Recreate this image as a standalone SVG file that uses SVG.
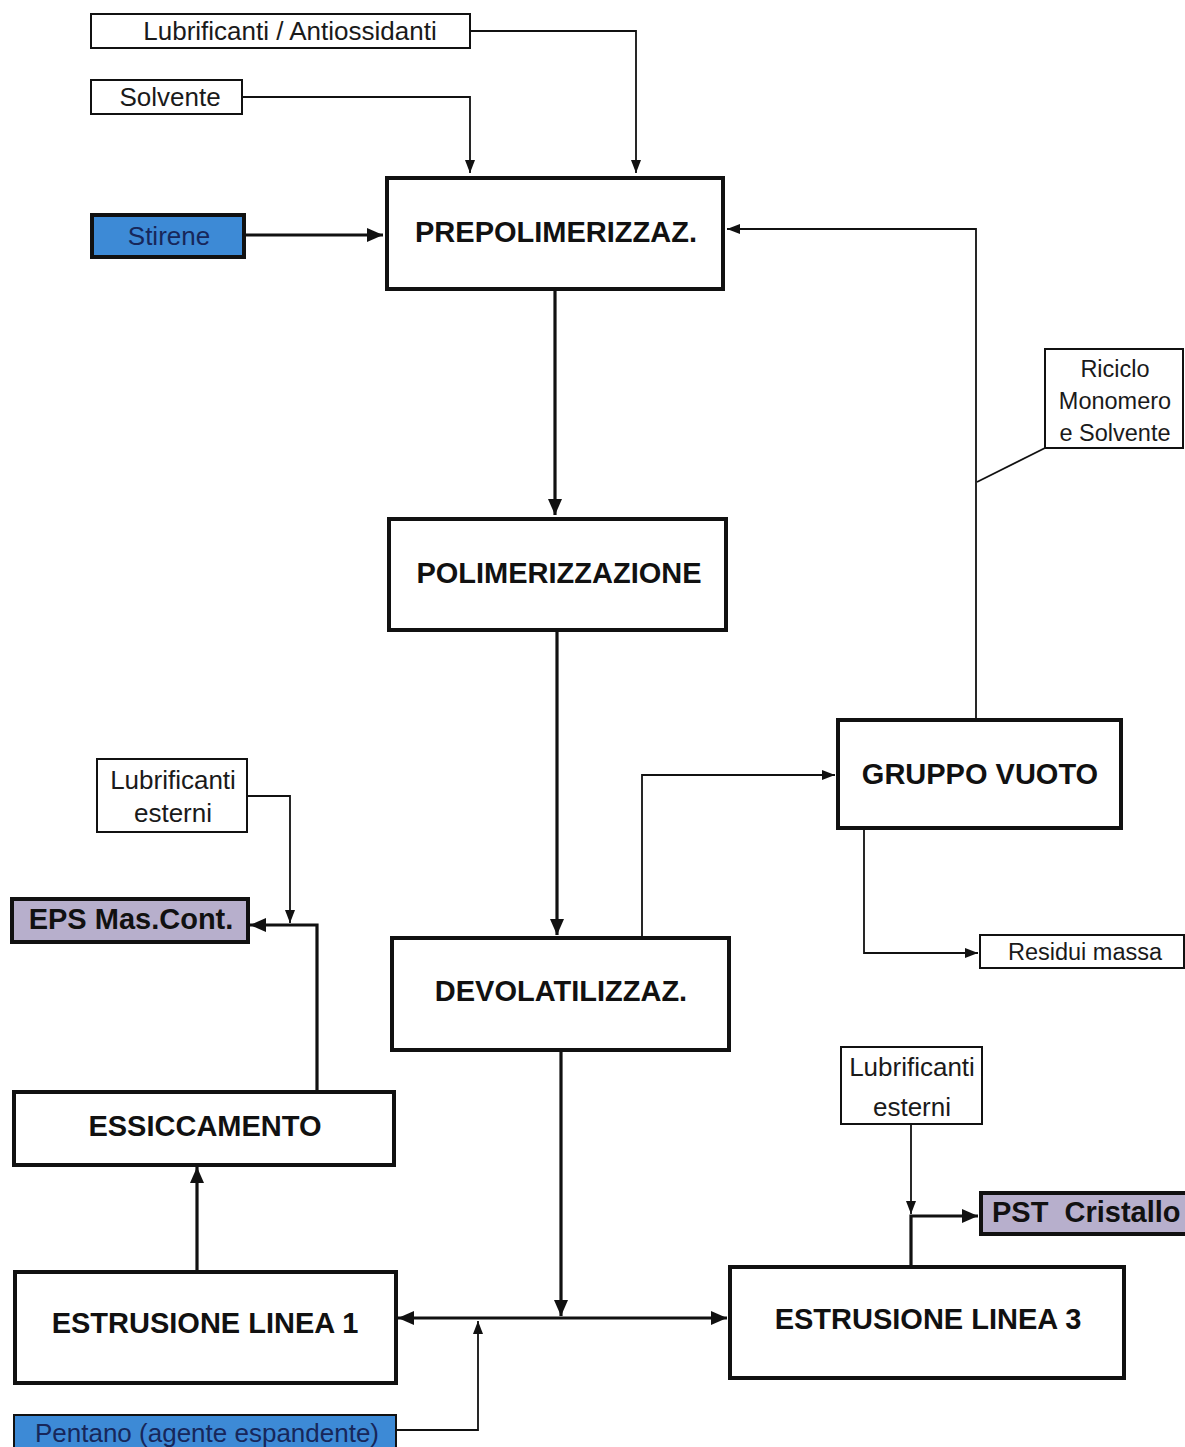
<svg xmlns="http://www.w3.org/2000/svg" width="1185" height="1447" viewBox="0 0 1185 1447">
  <style>
    .bg { fill: #ffffff; }
    .proc { fill: #ffffff; stroke: #111; stroke-width: 4; }
    .input { fill: #ffffff; stroke: #111; stroke-width: 2; }
    .blue { fill: #3d8ad6; stroke: #111; stroke-width: 4; }
    .blue-thin { fill: #3d8ad6; stroke: #111; stroke-width: 2; }
    .prod { fill: #b7afcc; stroke: #111; stroke-width: 4; }
    .big { font-family: "Liberation Sans", Arial, sans-serif; font-weight: bold; font-size: 29px; fill: #111; text-anchor: middle; }
    .lab { font-family: "Liberation Sans", Arial, sans-serif; font-size: 26px; fill: #1a1a1a; text-anchor: middle; }
    .lab-s { font-family: "Liberation Sans", Arial, sans-serif; font-size: 23.5px; fill: #1a1a1a; text-anchor: middle; }
    .lab-blue { font-family: "Liberation Sans", Arial, sans-serif; font-size: 26px; fill: #17275a; text-anchor: middle; }
    .thin { fill: none; stroke: #111; stroke-width: 1.8; }
    .thick { fill: none; stroke: #111; stroke-width: 3.2; }
  </style>
  <defs>
    <marker id="arr" markerWidth="13" markerHeight="10" refX="13" refY="5" orient="auto-start-reverse" markerUnits="userSpaceOnUse">
      <path d="M0,0 L13,5 L0,10 z" fill="#111"/>
    </marker>
    <marker id="arrB" markerWidth="16" markerHeight="14" refX="16" refY="7" orient="auto-start-reverse" markerUnits="userSpaceOnUse">
      <path d="M0,0 L16,7 L0,14 z" fill="#111"/>
    </marker>
  </defs>

  <rect class="bg" x="0" y="0" width="1185" height="1447"/>

  <!-- connectors -->
  <g id="connectors">
    <path class="thin" d="M470,31 H636 V173" marker-end="url(#arr)"/>
    <path class="thin" d="M242,97 H470 V173" marker-end="url(#arr)"/>
    <path class="thick" d="M244,235 H383" marker-end="url(#arrB)"/>
    <path class="thin" d="M976,719 V229 H727" marker-end="url(#arr)"/>
    <path class="thin" d="M1045,448 L977,482"/>
    <path class="thick" d="M555,289 V515" marker-end="url(#arrB)"/>
    <path class="thick" d="M557,630 V935" marker-end="url(#arrB)"/>
    <path class="thin" d="M642,937 V775 H835" marker-end="url(#arr)"/>
    <path class="thin" d="M864,828 V953 H978" marker-end="url(#arr)"/>
    <path class="thick" d="M561,1050 V1316" marker-end="url(#arrB)"/>
    <path class="thick" d="M561,1318 H398" marker-end="url(#arrB)"/>
    <path class="thick" d="M561,1318 H727" marker-end="url(#arrB)"/>
    <path class="thin" d="M396,1430 H478 V1321" marker-end="url(#arr)"/>
    <path class="thick" d="M197,1271 V1167" marker-end="url(#arrB)"/>
    <path class="thick" d="M317,1091 V925 H250" marker-end="url(#arrB)"/>
    <path class="thin" d="M247,796 H290 V923" marker-end="url(#arr)"/>
    <path class="thick" d="M911,1266 V1216 H978" marker-end="url(#arrB)"/>
    <path class="thin" d="M911,1124 V1214" marker-end="url(#arr)"/>
  </g>

  <!-- feed inputs -->
  <g id="lubrificanti-antiossidanti">
    <rect class="input" x="91" y="14" width="379" height="34"/>
    <text class="lab" x="290" y="40">Lubrificanti / Antiossidanti</text>
  </g>
  <g id="solvente">
    <rect class="input" x="91" y="80" width="151" height="34"/>
    <text class="lab" x="170" y="106">Solvente</text>
  </g>
  <g id="stirene">
    <rect class="blue" x="92" y="215" width="152" height="42"/>
    <text class="lab-blue" x="169" y="245">Stirene</text>
  </g>

  <!-- process units -->
  <g id="prepolimerizzazione">
    <rect class="proc" x="387" y="178" width="336" height="111"/>
    <text class="big" x="556" y="242">PREPOLIMERIZZAZ.</text>
  </g>
  <g id="polimerizzazione">
    <rect class="proc" x="389" y="519" width="337" height="111"/>
    <text class="big" x="559" y="583">POLIMERIZZAZIONE</text>
  </g>
  <g id="riciclo">
    <rect class="input" x="1045" y="349" width="138" height="99"/>
    <text class="lab-s" x="1115" y="377">Riciclo</text>
    <text class="lab-s" x="1115" y="409">Monomero</text>
    <text class="lab-s" x="1115" y="441">e Solvente</text>
  </g>
  <g id="gruppo-vuoto">
    <rect class="proc" x="838" y="720" width="283" height="108"/>
    <text class="big" x="980" y="784">GRUPPO VUOTO</text>
  </g>
  <g id="residui-massa">
    <rect class="input" x="980" y="935" width="204" height="33"/>
    <text class="lab-s" x="1085" y="960">Residui massa</text>
  </g>
  <g id="devolatilizzazione">
    <rect class="proc" x="392" y="938" width="337" height="112"/>
    <text class="big" x="561" y="1001">DEVOLATILIZZAZ.</text>
  </g>

  <!-- left line -->
  <g id="lubrificanti-esterni-1">
    <rect class="input" x="97" y="759" width="150" height="73"/>
    <text class="lab" x="173" y="789">Lubrificanti</text>
    <text class="lab" x="173" y="822">esterni</text>
  </g>
  <g id="eps-mas-cont">
    <rect class="prod" x="12" y="899" width="236" height="43"/>
    <text class="big" x="131" y="929">EPS Mas.Cont.</text>
  </g>
  <g id="essiccamento">
    <rect class="proc" x="14" y="1092" width="380" height="73"/>
    <text class="big" x="205" y="1136">ESSICCAMENTO</text>
  </g>
  <g id="estrusione-linea-1">
    <rect class="proc" x="15" y="1272" width="381" height="111"/>
    <text class="big" x="205" y="1333">ESTRUSIONE LINEA 1</text>
  </g>
  <g id="pentano">
    <rect class="blue-thin" x="14" y="1415" width="382" height="36"/>
    <text class="lab-blue" x="207" y="1442">Pentano (agente espandente)</text>
  </g>

  <!-- right line -->
  <g id="lubrificanti-esterni-3">
    <rect class="input" x="841" y="1047" width="141" height="77"/>
    <text class="lab" x="912" y="1076">Lubrificanti</text>
    <text class="lab" x="912" y="1116">esterni</text>
  </g>
  <g id="pst-cristallo">
    <rect class="prod" x="981" y="1193" width="206" height="41"/>
    <text class="big" x="992" y="1222" style="text-anchor:start" xml:space="preserve">PST  Cristallo</text>
  </g>
  <g id="estrusione-linea-3">
    <rect class="proc" x="730" y="1267" width="394" height="111"/>
    <text class="big" x="928" y="1329">ESTRUSIONE LINEA 3</text>
  </g>
</svg>
